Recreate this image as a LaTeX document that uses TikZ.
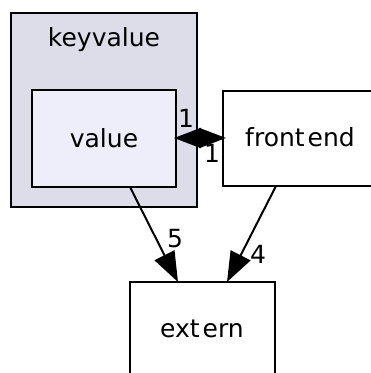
\documentclass[tikz,border=0pt]{standalone}
\usepackage{fontspec}
\setmainfont{DejaVu Sans}
\usetikzlibrary{arrows.meta}
\begin{document}
\begin{tikzpicture}[x=1pt,y=-1pt,
  every node/.style={font=\fontsize{25}{29}\selectfont, inner sep=0pt},
  cluster/.style={draw=black, line width=2.2pt, fill=clusterfill},
  dirbox/.style={draw=black, line width=2.2pt},
  dep/.style={line width=2pt, -{Triangle[length=30pt,width=22pt]}},
  bidep/.style={line width=2pt, {Triangle[length=27pt,width=20pt]}-{Triangle[length=27pt,width=20pt]}},
  lbl/.style={font=\fontsize{25}{29}\selectfont}]
\definecolor{clusterfill}{HTML}{DDDDEA}
\definecolor{valuefill}{HTML}{EEEEFB}
\useasboundingbox (0,0) rectangle (371,373);
% keyvalue directory cluster
\draw[cluster] (11,13) rectangle (197,207);
\node (kvtitle) at (104,40) {keyvalue};
% directory boxes
\draw[dirbox, fill=valuefill] (32,90) rectangle (176,187);
\node[minimum width=144pt, minimum height=97pt] (value) at (104,138.5) {value};
\draw[dirbox, fill=white] (223,91) rectangle (380,186);
\node[minimum width=157pt, minimum height=95pt] (frontend) at (301.5,138.5) {};
\node (frontendtxt) at (300,137) {front\kern3pt end};
\draw[dirbox, fill=white] (130,282) rectangle (275,385);
\node[minimum width=145pt, minimum height=103pt] (extern) at (202.5,333.5) {};
\node (externtxt) at (202,329) {ext\kern3pt ern};
% dependencies
\coordinate (vR) at (174,138);
\coordinate (fL) at (226,138);
\draw[bidep] (vR) -- (fL);
\coordinate (vB) at (130,187);
\coordinate (eT1) at (178,282);
\draw[dep] (vB) -- (eT1);
\coordinate (fB) at (276,186);
\coordinate (eT2) at (227,282);
\draw[dep] (fB) -- (eT2);
% edge labels
\node[lbl] (l1) at (186,118) {1};
\node[lbl] (l2) at (212,153) {1};
\node[lbl] (l5) at (175,239) {5};
\node[lbl] (l4) at (258,254) {4};
\end{tikzpicture}
\end{document}
